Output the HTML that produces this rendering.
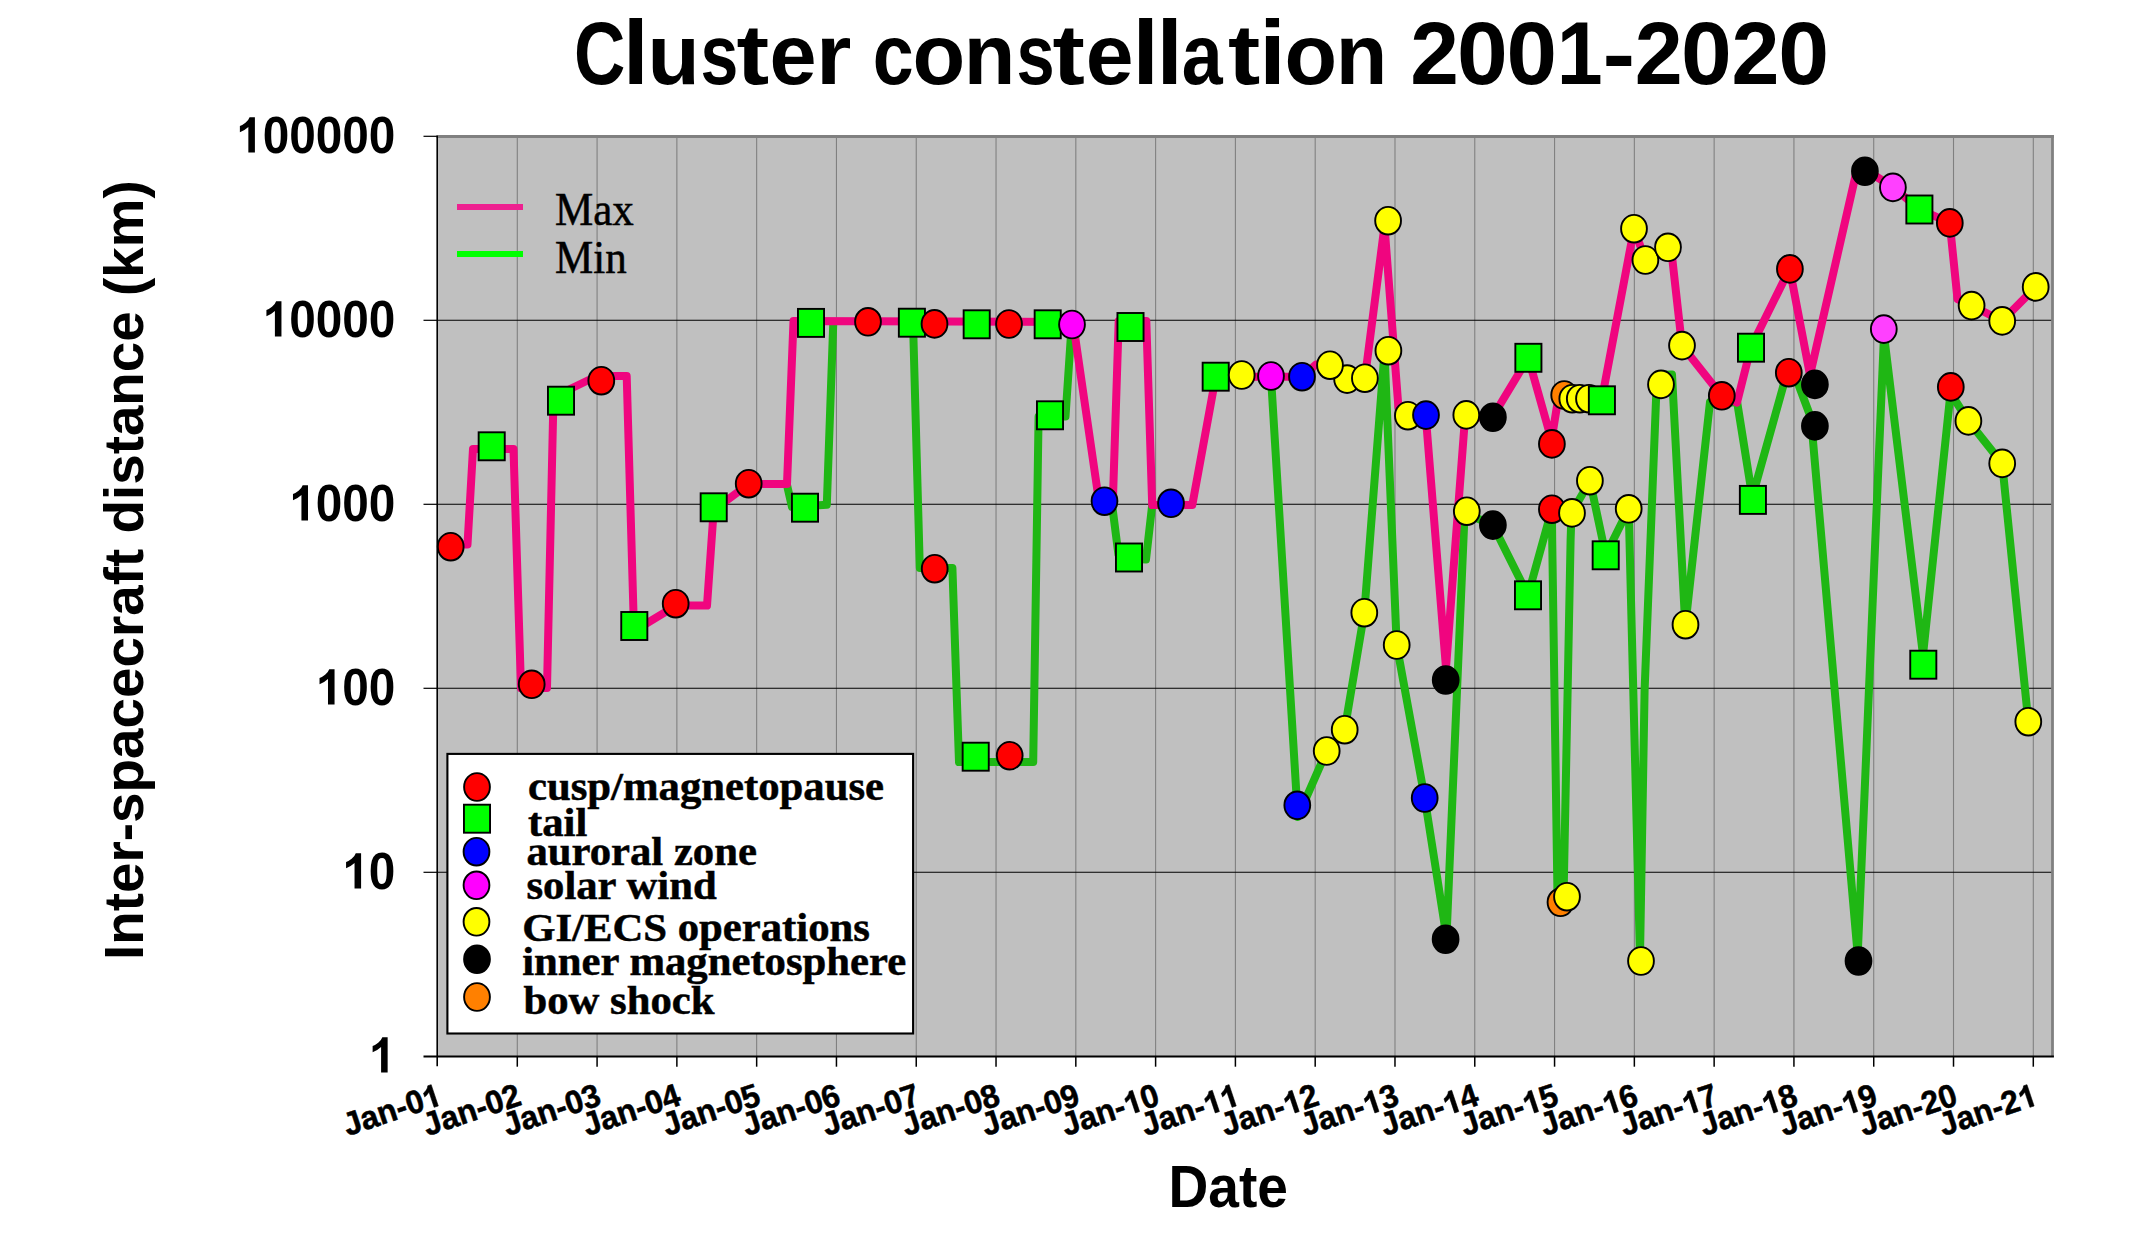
<!DOCTYPE html>
<html><head><meta charset="utf-8"><title>Cluster constellation 2001-2020</title>
<style>html,body{margin:0;padding:0;background:#fff}body{width:2153px;height:1254px;overflow:hidden}svg{display:block}text{font-family:"Liberation Sans",sans-serif;fill:#000}.b{font-weight:bold}.se{font-family:"Liberation Serif",serif}</style></head><body>
<svg width="2153" height="1254" viewBox="0 0 2153 1254">
<rect width="2153" height="1254" fill="#fff"/>
<rect x="437.5" y="136.3" width="1615.0" height="920.0" fill="#c0c0c0"/>
<line x1="517.29" y1="136.3" x2="517.29" y2="1056.3" stroke="#808080" stroke-width="1.1"/>
<line x1="597.08" y1="136.3" x2="597.08" y2="1056.3" stroke="#808080" stroke-width="1.1"/>
<line x1="676.87" y1="136.3" x2="676.87" y2="1056.3" stroke="#808080" stroke-width="1.1"/>
<line x1="756.66" y1="136.3" x2="756.66" y2="1056.3" stroke="#808080" stroke-width="1.1"/>
<line x1="836.45" y1="136.3" x2="836.45" y2="1056.3" stroke="#808080" stroke-width="1.1"/>
<line x1="916.24" y1="136.3" x2="916.24" y2="1056.3" stroke="#808080" stroke-width="1.1"/>
<line x1="996.03" y1="136.3" x2="996.03" y2="1056.3" stroke="#808080" stroke-width="1.1"/>
<line x1="1075.82" y1="136.3" x2="1075.82" y2="1056.3" stroke="#808080" stroke-width="1.1"/>
<line x1="1155.61" y1="136.3" x2="1155.61" y2="1056.3" stroke="#808080" stroke-width="1.1"/>
<line x1="1235.40" y1="136.3" x2="1235.40" y2="1056.3" stroke="#808080" stroke-width="1.1"/>
<line x1="1315.19" y1="136.3" x2="1315.19" y2="1056.3" stroke="#808080" stroke-width="1.1"/>
<line x1="1394.98" y1="136.3" x2="1394.98" y2="1056.3" stroke="#808080" stroke-width="1.1"/>
<line x1="1474.77" y1="136.3" x2="1474.77" y2="1056.3" stroke="#808080" stroke-width="1.1"/>
<line x1="1554.56" y1="136.3" x2="1554.56" y2="1056.3" stroke="#808080" stroke-width="1.1"/>
<line x1="1634.35" y1="136.3" x2="1634.35" y2="1056.3" stroke="#808080" stroke-width="1.1"/>
<line x1="1714.14" y1="136.3" x2="1714.14" y2="1056.3" stroke="#808080" stroke-width="1.1"/>
<line x1="1793.93" y1="136.3" x2="1793.93" y2="1056.3" stroke="#808080" stroke-width="1.1"/>
<line x1="1873.72" y1="136.3" x2="1873.72" y2="1056.3" stroke="#808080" stroke-width="1.1"/>
<line x1="1953.51" y1="136.3" x2="1953.51" y2="1056.3" stroke="#808080" stroke-width="1.1"/>
<line x1="2033.30" y1="136.3" x2="2033.30" y2="1056.3" stroke="#808080" stroke-width="1.1"/>
<line x1="437.5" y1="320.30" x2="2052.5" y2="320.30" stroke="#000" stroke-width="1.1"/>
<line x1="437.5" y1="504.30" x2="2052.5" y2="504.30" stroke="#000" stroke-width="1.1"/>
<line x1="437.5" y1="688.30" x2="2052.5" y2="688.30" stroke="#000" stroke-width="1.1"/>
<line x1="437.5" y1="872.30" x2="2052.5" y2="872.30" stroke="#000" stroke-width="1.1"/>
<line x1="436.5" y1="136.5" x2="2053.9" y2="136.5" stroke="#808080" stroke-width="2.8"/>
<line x1="2052.5" y1="135.10000000000002" x2="2052.5" y2="1057.1" stroke="#808080" stroke-width="2.8"/>
<line x1="437.2" y1="135.8" x2="437.2" y2="1066.3" stroke="#000" stroke-width="1.6"/>
<line x1="423.5" y1="1056.6" x2="2053.9" y2="1056.6" stroke="#000" stroke-width="2"/>
<line x1="423.5" y1="136.30" x2="437.5" y2="136.30" stroke="#000" stroke-width="1.2"/>
<line x1="423.5" y1="320.30" x2="437.5" y2="320.30" stroke="#000" stroke-width="1.2"/>
<line x1="423.5" y1="504.30" x2="437.5" y2="504.30" stroke="#000" stroke-width="1.2"/>
<line x1="423.5" y1="688.30" x2="437.5" y2="688.30" stroke="#000" stroke-width="1.2"/>
<line x1="423.5" y1="872.30" x2="437.5" y2="872.30" stroke="#000" stroke-width="1.2"/>
<line x1="517.29" y1="1056.3" x2="517.29" y2="1066.7" stroke="#000" stroke-width="1.5"/>
<line x1="597.08" y1="1056.3" x2="597.08" y2="1066.7" stroke="#000" stroke-width="1.5"/>
<line x1="676.87" y1="1056.3" x2="676.87" y2="1066.7" stroke="#000" stroke-width="1.5"/>
<line x1="756.66" y1="1056.3" x2="756.66" y2="1066.7" stroke="#000" stroke-width="1.5"/>
<line x1="836.45" y1="1056.3" x2="836.45" y2="1066.7" stroke="#000" stroke-width="1.5"/>
<line x1="916.24" y1="1056.3" x2="916.24" y2="1066.7" stroke="#000" stroke-width="1.5"/>
<line x1="996.03" y1="1056.3" x2="996.03" y2="1066.7" stroke="#000" stroke-width="1.5"/>
<line x1="1075.82" y1="1056.3" x2="1075.82" y2="1066.7" stroke="#000" stroke-width="1.5"/>
<line x1="1155.61" y1="1056.3" x2="1155.61" y2="1066.7" stroke="#000" stroke-width="1.5"/>
<line x1="1235.40" y1="1056.3" x2="1235.40" y2="1066.7" stroke="#000" stroke-width="1.5"/>
<line x1="1315.19" y1="1056.3" x2="1315.19" y2="1066.7" stroke="#000" stroke-width="1.5"/>
<line x1="1394.98" y1="1056.3" x2="1394.98" y2="1066.7" stroke="#000" stroke-width="1.5"/>
<line x1="1474.77" y1="1056.3" x2="1474.77" y2="1066.7" stroke="#000" stroke-width="1.5"/>
<line x1="1554.56" y1="1056.3" x2="1554.56" y2="1066.7" stroke="#000" stroke-width="1.5"/>
<line x1="1634.35" y1="1056.3" x2="1634.35" y2="1066.7" stroke="#000" stroke-width="1.5"/>
<line x1="1714.14" y1="1056.3" x2="1714.14" y2="1066.7" stroke="#000" stroke-width="1.5"/>
<line x1="1793.93" y1="1056.3" x2="1793.93" y2="1066.7" stroke="#000" stroke-width="1.5"/>
<line x1="1873.72" y1="1056.3" x2="1873.72" y2="1066.7" stroke="#000" stroke-width="1.5"/>
<line x1="1953.51" y1="1056.3" x2="1953.51" y2="1066.7" stroke="#000" stroke-width="1.5"/>
<line x1="2033.30" y1="1056.3" x2="2033.30" y2="1066.7" stroke="#000" stroke-width="1.5"/>
<path d="M787,485 L792,507 L826.8,504.8 L833.3,322 M913,322 L919.8,568 L952.4,568 L959,762 L1033.2,762 L1038.6,416.5 L1065.5,416.5 L1071.5,327 M1112,504 L1118.5,555 L1129,558.5 L1146,559.5 L1152.2,505 M1271,377 L1297.8,817 L1326.7,751 L1344.7,729.7 L1364.3,612.7 L1384.5,352 L1396.7,645 L1424.7,798 L1446.5,937 L1464.6,513 L1492.9,525 L1528,595.3 L1551.9,509 L1552.2,540 L1557.6,903 L1563.5,900 L1570.6,540 L1571.5,513 L1590,481 L1605.7,555 L1628.7,508.8 L1640,957 L1644.6,690 L1657,375 L1672,374.5 L1685.3,626 L1710,402 L1737.2,402.5 L1752.3,497 L1790,362 L1811,418 L1857.7,955 L1884,335 L1923,655 L1950.5,393 L1968.4,421 L2002.2,463.6 L2028.3,721.7" fill="none" stroke="#1fb714" stroke-width="8" stroke-linejoin="round" stroke-linecap="round"/>
<path d="M450.6,544.5 L467.5,544.5 L473,449 L513.5,449 L521,688 L547,688 L553.5,397 L597,376 L626.7,376 L634,631 L676,605.6 L707,605.6 L713.7,510 L749,483.9 L787,484 L793.5,321 L1073,322 L1099.3,503.5 L1112.8,503.5 L1118.7,321 L1146.3,321 L1152.2,505 L1192.3,505 L1215.7,377 L1302,376.7 L1316,364.5 L1330,365.2 L1347.1,379.1 L1364.9,378.2 L1384.5,226 L1398.5,408 L1425.7,415 L1446,668 L1465,418 L1492.7,416.7 L1528.3,357.7 L1551.5,440 L1558,400 L1601.7,400 L1634,228.7 L1645.4,260 L1671,247.3 L1682,345.7 L1721.7,395.7 L1737,402.5 L1751,347 L1789.7,268.7 L1810,375 L1858,165 L1892.7,187 L1919.3,209.3 L1949.7,222.7 L1957.5,299 L1971.7,305.5 L2002,321 L2035.7,287" fill="none" stroke="#f0057f" stroke-width="8" stroke-linejoin="round" stroke-linecap="round"/>
<line x1="457" y1="207" x2="523" y2="207" stroke="#ee2090" stroke-width="5.8"/>
<line x1="457" y1="254" x2="523" y2="254" stroke="#00ff00" stroke-width="5.8"/>
<text class="se" font-size="43" stroke="#000" stroke-width="0.5" transform="translate(555,224.7) scale(1,1.065)">Max</text>
<text class="se" font-size="43" stroke="#000" stroke-width="0.5" transform="translate(555,272.6) scale(1,1.065)">Min</text>
<ellipse cx="450.7" cy="546.7" rx="12.9" ry="13.85" fill="#ff0000" stroke="#000" stroke-width="1.9"/>
<rect x="478.65" y="432.30" width="26.1" height="28.0" fill="#00ff00" stroke="#000" stroke-width="1.9"/>
<ellipse cx="531.7" cy="684.3" rx="12.9" ry="13.85" fill="#ff0000" stroke="#000" stroke-width="1.9"/>
<rect x="547.95" y="386.70" width="26.1" height="28.0" fill="#00ff00" stroke="#000" stroke-width="1.9"/>
<ellipse cx="601.3" cy="380.7" rx="12.9" ry="13.85" fill="#ff0000" stroke="#000" stroke-width="1.9"/>
<rect x="621.25" y="612.00" width="26.1" height="28.0" fill="#00ff00" stroke="#000" stroke-width="1.9"/>
<ellipse cx="675.7" cy="603.7" rx="12.9" ry="13.85" fill="#ff0000" stroke="#000" stroke-width="1.9"/>
<rect x="700.65" y="493.30" width="26.1" height="28.0" fill="#00ff00" stroke="#000" stroke-width="1.9"/>
<ellipse cx="748.7" cy="483.7" rx="12.9" ry="13.85" fill="#ff0000" stroke="#000" stroke-width="1.9"/>
<rect x="791.95" y="493.70" width="26.1" height="28.0" fill="#00ff00" stroke="#000" stroke-width="1.9"/>
<rect x="797.95" y="308.90" width="26.1" height="28.0" fill="#00ff00" stroke="#000" stroke-width="1.9"/>
<ellipse cx="868" cy="321.8" rx="12.9" ry="13.85" fill="#ff0000" stroke="#000" stroke-width="1.9"/>
<rect x="898.85" y="308.70" width="26.1" height="28.0" fill="#00ff00" stroke="#000" stroke-width="1.9"/>
<ellipse cx="934.5" cy="323.9" rx="12.9" ry="13.85" fill="#ff0000" stroke="#000" stroke-width="1.9"/>
<rect x="963.65" y="310.30" width="26.1" height="28.0" fill="#00ff00" stroke="#000" stroke-width="1.9"/>
<ellipse cx="1009" cy="324" rx="12.9" ry="13.85" fill="#ff0000" stroke="#000" stroke-width="1.9"/>
<rect x="1034.65" y="310.30" width="26.1" height="28.0" fill="#00ff00" stroke="#000" stroke-width="1.9"/>
<ellipse cx="934.7" cy="568.7" rx="12.9" ry="13.85" fill="#ff0000" stroke="#000" stroke-width="1.9"/>
<rect x="962.65" y="742.70" width="26.1" height="28.0" fill="#00ff00" stroke="#000" stroke-width="1.9"/>
<ellipse cx="1009.7" cy="755.7" rx="12.9" ry="13.85" fill="#ff0000" stroke="#000" stroke-width="1.9"/>
<rect x="1036.95" y="401.30" width="26.1" height="28.0" fill="#00ff00" stroke="#000" stroke-width="1.9"/>
<ellipse cx="1072" cy="324.5" rx="12.9" ry="13.85" fill="#ff00ff" stroke="#000" stroke-width="1.9"/>
<ellipse cx="1104.5" cy="501.2" rx="12.9" ry="13.85" fill="#0000ff" stroke="#000" stroke-width="1.9"/>
<rect x="1117.45" y="313.00" width="26.1" height="28.0" fill="#00ff00" stroke="#000" stroke-width="1.9"/>
<rect x="1115.95" y="543.50" width="26.1" height="28.0" fill="#00ff00" stroke="#000" stroke-width="1.9"/>
<ellipse cx="1171" cy="503.3" rx="12.9" ry="13.85" fill="#0000ff" stroke="#000" stroke-width="1.9"/>
<rect x="1202.65" y="362.70" width="26.1" height="28.0" fill="#00ff00" stroke="#000" stroke-width="1.9"/>
<ellipse cx="1241.7" cy="375" rx="12.9" ry="13.85" fill="#ffff00" stroke="#000" stroke-width="1.9"/>
<ellipse cx="1271" cy="376" rx="12.9" ry="13.85" fill="#ff00ff" stroke="#000" stroke-width="1.9"/>
<ellipse cx="1302" cy="376.7" rx="12.9" ry="13.85" fill="#0000ff" stroke="#000" stroke-width="1.9"/>
<ellipse cx="1347.1" cy="379.1" rx="12.9" ry="13.85" fill="#ffff00" stroke="#000" stroke-width="1.9"/>
<ellipse cx="1330" cy="365.2" rx="12.9" ry="13.85" fill="#ffff00" stroke="#000" stroke-width="1.9"/>
<ellipse cx="1364.9" cy="378.2" rx="12.9" ry="13.85" fill="#ffff00" stroke="#000" stroke-width="1.9"/>
<ellipse cx="1388.1" cy="220.7" rx="12.9" ry="13.85" fill="#ffff00" stroke="#000" stroke-width="1.9"/>
<ellipse cx="1388.4" cy="350.7" rx="12.9" ry="13.85" fill="#ffff00" stroke="#000" stroke-width="1.9"/>
<ellipse cx="1407.9" cy="415.7" rx="12.9" ry="13.85" fill="#ffff00" stroke="#000" stroke-width="1.9"/>
<ellipse cx="1426" cy="415.1" rx="12.9" ry="13.85" fill="#0000ff" stroke="#000" stroke-width="1.9"/>
<ellipse cx="1466.3" cy="414.9" rx="12.9" ry="13.85" fill="#ffff00" stroke="#000" stroke-width="1.9"/>
<ellipse cx="1492.9" cy="417.3" rx="12.9" ry="13.85" fill="#000000" stroke="#000" stroke-width="1.9"/>
<rect x="1515.35" y="343.80" width="26.1" height="28.0" fill="#00ff00" stroke="#000" stroke-width="1.9"/>
<ellipse cx="1551.9" cy="443.9" rx="12.9" ry="13.85" fill="#ff0000" stroke="#000" stroke-width="1.9"/>
<ellipse cx="1564.2" cy="395" rx="12.9" ry="13.85" fill="#ff8000" stroke="#000" stroke-width="1.9"/>
<ellipse cx="1572.3" cy="398.7" rx="12.9" ry="13.85" fill="#ffff00" stroke="#000" stroke-width="1.9"/>
<ellipse cx="1579.8" cy="398.7" rx="12.9" ry="13.85" fill="#ffff00" stroke="#000" stroke-width="1.9"/>
<ellipse cx="1589" cy="398.7" rx="12.9" ry="13.85" fill="#ffff00" stroke="#000" stroke-width="1.9"/>
<rect x="1588.85" y="386.30" width="26.1" height="28.0" fill="#00ff00" stroke="#000" stroke-width="1.9"/>
<ellipse cx="1634" cy="228.7" rx="12.9" ry="13.85" fill="#ffff00" stroke="#000" stroke-width="1.9"/>
<ellipse cx="1645.4" cy="260" rx="12.9" ry="13.85" fill="#ffff00" stroke="#000" stroke-width="1.9"/>
<ellipse cx="1668" cy="247.3" rx="12.9" ry="13.85" fill="#ffff00" stroke="#000" stroke-width="1.9"/>
<ellipse cx="1682" cy="345.6" rx="12.9" ry="13.85" fill="#ffff00" stroke="#000" stroke-width="1.9"/>
<ellipse cx="1721.8" cy="395.8" rx="12.9" ry="13.85" fill="#ff0000" stroke="#000" stroke-width="1.9"/>
<rect x="1737.95" y="333.70" width="26.1" height="28.0" fill="#00ff00" stroke="#000" stroke-width="1.9"/>
<ellipse cx="1661" cy="384.4" rx="12.9" ry="13.85" fill="#ffff00" stroke="#000" stroke-width="1.9"/>
<ellipse cx="1364.3" cy="612.7" rx="12.9" ry="13.85" fill="#ffff00" stroke="#000" stroke-width="1.9"/>
<ellipse cx="1396.7" cy="645" rx="12.9" ry="13.85" fill="#ffff00" stroke="#000" stroke-width="1.9"/>
<ellipse cx="1445.7" cy="680" rx="12.9" ry="13.85" fill="#000000" stroke="#000" stroke-width="1.9"/>
<ellipse cx="1326.7" cy="751" rx="12.9" ry="13.85" fill="#ffff00" stroke="#000" stroke-width="1.9"/>
<ellipse cx="1344.7" cy="729.7" rx="12.9" ry="13.85" fill="#ffff00" stroke="#000" stroke-width="1.9"/>
<ellipse cx="1297.3" cy="805.3" rx="12.9" ry="13.85" fill="#0000ff" stroke="#000" stroke-width="1.9"/>
<ellipse cx="1424.7" cy="798" rx="12.9" ry="13.85" fill="#0000ff" stroke="#000" stroke-width="1.9"/>
<ellipse cx="1445.6" cy="939.3" rx="12.9" ry="13.85" fill="#000000" stroke="#000" stroke-width="1.9"/>
<ellipse cx="1466.8" cy="511.2" rx="12.9" ry="13.85" fill="#ffff00" stroke="#000" stroke-width="1.9"/>
<ellipse cx="1492.9" cy="525.1" rx="12.9" ry="13.85" fill="#000000" stroke="#000" stroke-width="1.9"/>
<rect x="1514.95" y="581.30" width="26.1" height="28.0" fill="#00ff00" stroke="#000" stroke-width="1.9"/>
<ellipse cx="1551.9" cy="509.2" rx="12.9" ry="13.85" fill="#ff0000" stroke="#000" stroke-width="1.9"/>
<ellipse cx="1572" cy="512.9" rx="12.9" ry="13.85" fill="#ffff00" stroke="#000" stroke-width="1.9"/>
<ellipse cx="1589.9" cy="480.7" rx="12.9" ry="13.85" fill="#ffff00" stroke="#000" stroke-width="1.9"/>
<rect x="1592.65" y="541.30" width="26.1" height="28.0" fill="#00ff00" stroke="#000" stroke-width="1.9"/>
<ellipse cx="1628.7" cy="508.8" rx="12.9" ry="13.85" fill="#ffff00" stroke="#000" stroke-width="1.9"/>
<ellipse cx="1560.5" cy="902.3" rx="12.9" ry="13.85" fill="#ff8000" stroke="#000" stroke-width="1.9"/>
<ellipse cx="1567" cy="896.7" rx="12.9" ry="13.85" fill="#ffff00" stroke="#000" stroke-width="1.9"/>
<ellipse cx="1641" cy="961" rx="12.9" ry="13.85" fill="#ffff00" stroke="#000" stroke-width="1.9"/>
<ellipse cx="1685.5" cy="624.7" rx="12.9" ry="13.85" fill="#ffff00" stroke="#000" stroke-width="1.9"/>
<rect x="1739.85" y="485.90" width="26.1" height="28.0" fill="#00ff00" stroke="#000" stroke-width="1.9"/>
<ellipse cx="1789.9" cy="268.9" rx="12.9" ry="13.85" fill="#ff0000" stroke="#000" stroke-width="1.9"/>
<ellipse cx="1788.8" cy="372.7" rx="12.9" ry="13.85" fill="#ff0000" stroke="#000" stroke-width="1.9"/>
<ellipse cx="1814.9" cy="384.4" rx="12.9" ry="13.85" fill="#000000" stroke="#000" stroke-width="1.9"/>
<ellipse cx="1814.9" cy="425.9" rx="12.9" ry="13.85" fill="#000000" stroke="#000" stroke-width="1.9"/>
<ellipse cx="1864.9" cy="171.3" rx="12.9" ry="13.85" fill="#000000" stroke="#000" stroke-width="1.9"/>
<ellipse cx="1892.9" cy="187.4" rx="12.9" ry="13.85" fill="#ff40ff" stroke="#000" stroke-width="1.9"/>
<rect x="1906.35" y="195.50" width="26.1" height="28.0" fill="#00ff00" stroke="#000" stroke-width="1.9"/>
<ellipse cx="1949.8" cy="222.9" rx="12.9" ry="13.85" fill="#ff0000" stroke="#000" stroke-width="1.9"/>
<ellipse cx="1971.6" cy="305.6" rx="12.9" ry="13.85" fill="#ffff00" stroke="#000" stroke-width="1.9"/>
<ellipse cx="2002.2" cy="320.9" rx="12.9" ry="13.85" fill="#ffff00" stroke="#000" stroke-width="1.9"/>
<ellipse cx="2035.7" cy="286.9" rx="12.9" ry="13.85" fill="#ffff00" stroke="#000" stroke-width="1.9"/>
<ellipse cx="1883.8" cy="329.1" rx="12.9" ry="13.85" fill="#ff40ff" stroke="#000" stroke-width="1.9"/>
<ellipse cx="1950.8" cy="386.9" rx="12.9" ry="13.85" fill="#ff0000" stroke="#000" stroke-width="1.9"/>
<ellipse cx="1968.4" cy="420.9" rx="12.9" ry="13.85" fill="#ffff00" stroke="#000" stroke-width="1.9"/>
<ellipse cx="2002.2" cy="463.4" rx="12.9" ry="13.85" fill="#ffff00" stroke="#000" stroke-width="1.9"/>
<rect x="1910.25" y="650.70" width="26.1" height="28.0" fill="#00ff00" stroke="#000" stroke-width="1.9"/>
<ellipse cx="2028.3" cy="721.7" rx="12.9" ry="13.85" fill="#ffff00" stroke="#000" stroke-width="1.9"/>
<ellipse cx="1858.5" cy="961" rx="12.9" ry="13.85" fill="#000000" stroke="#000" stroke-width="1.9"/>
<rect x="447.4" y="753.9" width="465.7" height="279.6" fill="#fff" stroke="#000" stroke-width="2.1"/>
<ellipse cx="477" cy="787" rx="12.9" ry="13.85" fill="#ff0000" stroke="#000" stroke-width="1.9"/>
<text class="se b" font-size="41" stroke="#000" stroke-width="0.5" transform="translate(528,799.7) scale(1.042,1)">cusp/magnetopause</text>
<rect x="463.95" y="804.70" width="26.1" height="28.0" fill="#00ff00" stroke="#000" stroke-width="1.9"/>
<text class="se b" font-size="41" stroke="#000" stroke-width="0.5" transform="translate(528,835.5) scale(1.042,1)">tail</text>
<ellipse cx="476.5" cy="851.7" rx="12.9" ry="13.85" fill="#0000ff" stroke="#000" stroke-width="1.9"/>
<text class="se b" font-size="41" stroke="#000" stroke-width="0.5" transform="translate(526.4,864.9) scale(1.042,1)">auroral zone</text>
<ellipse cx="476.5" cy="885.3" rx="12.9" ry="13.85" fill="#ff00ff" stroke="#000" stroke-width="1.9"/>
<text class="se b" font-size="41" stroke="#000" stroke-width="0.5" transform="translate(526.4,899.1) scale(1.042,1)">solar wind</text>
<ellipse cx="476.5" cy="921.8" rx="12.9" ry="13.85" fill="#ffff00" stroke="#000" stroke-width="1.9"/>
<text class="se b" font-size="41" stroke="#000" stroke-width="0.5" transform="translate(522.2,940.8) scale(1.042,1)">GI/ECS operations</text>
<ellipse cx="477" cy="959.2" rx="12.9" ry="13.85" fill="#000000" stroke="#000" stroke-width="1.9"/>
<text class="se b" font-size="41" stroke="#000" stroke-width="0.5" transform="translate(522.2,974.7) scale(1.042,1)">inner magnetosphere</text>
<ellipse cx="477" cy="997" rx="12.9" ry="13.85" fill="#ff8000" stroke="#000" stroke-width="1.9"/>
<text class="se b" font-size="41" stroke="#000" stroke-width="0.5" transform="translate(523.4,1013.6) scale(1.042,1)">bow shock</text>
<text class="b" font-size="86.0" transform="translate(574.08,84.2) scale(0.8270,1.03)">C</text>
<text class="b" font-size="86.0" transform="translate(622.89,84.2) scale(1.0678,1.048)">l</text>
<text class="b" font-size="86.0" transform="translate(647.60,84.2) scale(0.9945,1.0)">u</text>
<text class="b" font-size="86.0" transform="translate(700.41,84.2) scale(0.7898,1.0)">s</text>
<text class="b" font-size="86.0" transform="translate(736.60,84.2) scale(1.1417,1.0)">t</text>
<text class="b" font-size="86.0" transform="translate(769.39,84.2) scale(0.9848,1.0)">e</text>
<text class="b" font-size="86.0" transform="translate(816.01,84.2) scale(1.0567,1.0)">r</text>
<text class="b" font-size="86.0" transform="translate(872.73,84.2) scale(0.8558,1.0)">c</text>
<text class="b" font-size="86.0" transform="translate(912.53,84.2) scale(1.0041,1.0)">o</text>
<text class="b" font-size="86.0" transform="translate(963.83,84.2) scale(0.9824,1.0)">n</text>
<text class="b" font-size="86.0" transform="translate(1016.39,84.2) scale(0.7970,1.0)">s</text>
<text class="b" font-size="86.0" transform="translate(1052.51,84.2) scale(1.1304,1.0)">t</text>
<text class="b" font-size="86.0" transform="translate(1085.74,84.2) scale(0.9993,1.0)">e</text>
<text class="b" font-size="86.0" transform="translate(1132.58,84.2) scale(1.1017,1.048)">l</text>
<text class="b" font-size="86.0" transform="translate(1156.58,84.2) scale(1.1017,1.048)">l</text>
<text class="b" font-size="86.0" transform="translate(1181.75,84.2) scale(0.8549,1.0)">a</text>
<text class="b" font-size="86.0" transform="translate(1227.92,84.2) scale(1.1266,1.0)">t</text>
<text class="b" font-size="86.0" transform="translate(1259.23,84.2) scale(1.1102,1.048)">i</text>
<text class="b" font-size="86.0" transform="translate(1284.53,84.2) scale(1.0019,1.0)">o</text>
<text class="b" font-size="86.0" transform="translate(1335.83,84.2) scale(0.9824,1.0)">n</text>
<text class="b" font-size="86.0" transform="translate(1410.27,84.2) scale(1.0168,1.035)">2</text>
<text class="b" font-size="86.0" transform="translate(1456.99,84.2) scale(1.0611,1.035)">0</text>
<text class="b" font-size="86.0" transform="translate(1506.41,84.2) scale(1.0562,1.035)">0</text>
<text class="b" font-size="86.0" transform="translate(1556.80,84.2) scale(0.9596,1.035)">1</text>
<text class="b" font-size="86.0" transform="translate(1602.47,83.3) scale(1.1403,1.0)">-</text>
<text class="b" font-size="86.0" transform="translate(1634.71,84.2) scale(1.0023,1.035)">2</text>
<text class="b" font-size="86.0" transform="translate(1680.99,84.2) scale(1.0611,1.035)">0</text>
<text class="b" font-size="86.0" transform="translate(1731.61,84.2) scale(1.0023,1.035)">2</text>
<text class="b" font-size="86.0" transform="translate(1778.28,84.2) scale(1.0636,1.035)">0</text>
<g transform="translate(395.4,152.6) scale(1,1.08)">
<text class="b" font-size="47.75" text-anchor="end">00000</text>
<path d="M-140.50,-0.00 L-147.05,-0.00 L-147.05,-23.63 Q-150.64,-20.42 -155.52,-18.88 L-155.52,-24.57 Q-152.95,-25.37 -149.94,-27.61 Q-146.94,-29.85 -145.82,-32.84 L-140.50,-32.84 Z" fill="#000"/></g>
<g transform="translate(395.4,336.6) scale(1,1.08)">
<text class="b" font-size="47.75" text-anchor="end">0000</text>
<path d="M-113.95,-0.00 L-120.50,-0.00 L-120.50,-23.63 Q-124.09,-20.42 -128.97,-18.88 L-128.97,-24.57 Q-126.40,-25.37 -123.40,-27.61 Q-120.39,-29.85 -119.27,-32.84 L-113.95,-32.84 Z" fill="#000"/></g>
<g transform="translate(395.4,520.6) scale(1,1.08)">
<text class="b" font-size="47.75" text-anchor="end">000</text>
<path d="M-87.40,-0.00 L-93.96,-0.00 L-93.96,-23.63 Q-97.55,-20.42 -102.42,-18.88 L-102.42,-24.57 Q-99.85,-25.37 -96.85,-27.61 Q-93.84,-29.85 -92.72,-32.84 L-87.40,-32.84 Z" fill="#000"/></g>
<g transform="translate(395.4,704.6) scale(1,1.08)">
<text class="b" font-size="47.75" text-anchor="end">00</text>
<path d="M-60.85,-0.00 L-67.41,-0.00 L-67.41,-23.63 Q-71.00,-20.42 -75.87,-18.88 L-75.87,-24.57 Q-73.31,-25.37 -70.30,-27.61 Q-67.29,-29.85 -66.17,-32.84 L-60.85,-32.84 Z" fill="#000"/></g>
<g transform="translate(395.4,888.6) scale(1,1.08)">
<text class="b" font-size="47.75" text-anchor="end">0</text>
<path d="M-34.31,-0.00 L-40.86,-0.00 L-40.86,-23.63 Q-44.45,-20.42 -49.32,-18.88 L-49.32,-24.57 Q-46.76,-25.37 -43.75,-27.61 Q-40.74,-29.85 -39.62,-32.84 L-34.31,-32.84 Z" fill="#000"/></g>
<g transform="translate(395.4,1072.6) scale(1,1.08)">
<path d="M-7.76,-0.00 L-14.31,-0.00 L-14.31,-23.63 Q-17.90,-20.42 -22.77,-18.88 L-22.77,-24.57 Q-20.21,-25.37 -17.20,-27.61 Q-14.19,-29.85 -13.07,-32.84 L-7.76,-32.84 Z" fill="#000"/></g>
<g transform="translate(443.2,1104.3) rotate(-18.5) scale(1.044,1.07)" stroke="#000" stroke-width="0.5">
<text class="b" font-size="30.5" x="-96.62" y="0">J</text>
<text class="b" font-size="30.5" x="-79.67" y="0">a</text>
<text class="b" font-size="30.5" x="-62.71" y="0">n</text>
<text class="b" font-size="30.5" x="-44.07" y="0">-</text>
<text class="b" font-size="30.5" x="-33.92" y="0">0</text>
<path d="M-4.95,-0.00 L-9.14,-0.00 L-9.14,-15.09 Q-11.43,-13.04 -14.55,-12.06 L-14.55,-15.69 Q-12.91,-16.20 -10.99,-17.64 Q-9.06,-19.07 -8.35,-20.98 L-4.95,-20.98 Z" fill="#000"/>
</g>
<g transform="translate(523.0,1104.3) rotate(-18.5) scale(1.044,1.07)" stroke="#000" stroke-width="0.5">
<text class="b" font-size="30.5" x="-96.62" y="0">J</text>
<text class="b" font-size="30.5" x="-79.67" y="0">a</text>
<text class="b" font-size="30.5" x="-62.71" y="0">n</text>
<text class="b" font-size="30.5" x="-44.07" y="0">-</text>
<text class="b" font-size="30.5" x="-33.92" y="0">0</text>
<text class="b" font-size="30.5" x="-16.96" y="0">2</text>
</g>
<g transform="translate(602.8,1104.3) rotate(-18.5) scale(1.044,1.07)" stroke="#000" stroke-width="0.5">
<text class="b" font-size="30.5" x="-96.62" y="0">J</text>
<text class="b" font-size="30.5" x="-79.67" y="0">a</text>
<text class="b" font-size="30.5" x="-62.71" y="0">n</text>
<text class="b" font-size="30.5" x="-44.07" y="0">-</text>
<text class="b" font-size="30.5" x="-33.92" y="0">0</text>
<text class="b" font-size="30.5" x="-16.96" y="0">3</text>
</g>
<g transform="translate(682.6,1104.3) rotate(-18.5) scale(1.044,1.07)" stroke="#000" stroke-width="0.5">
<text class="b" font-size="30.5" x="-96.62" y="0">J</text>
<text class="b" font-size="30.5" x="-79.67" y="0">a</text>
<text class="b" font-size="30.5" x="-62.71" y="0">n</text>
<text class="b" font-size="30.5" x="-44.07" y="0">-</text>
<text class="b" font-size="30.5" x="-33.92" y="0">0</text>
<text class="b" font-size="30.5" x="-16.96" y="0">4</text>
</g>
<g transform="translate(762.4,1104.3) rotate(-18.5) scale(1.044,1.07)" stroke="#000" stroke-width="0.5">
<text class="b" font-size="30.5" x="-96.62" y="0">J</text>
<text class="b" font-size="30.5" x="-79.67" y="0">a</text>
<text class="b" font-size="30.5" x="-62.71" y="0">n</text>
<text class="b" font-size="30.5" x="-44.07" y="0">-</text>
<text class="b" font-size="30.5" x="-33.92" y="0">0</text>
<text class="b" font-size="30.5" x="-16.96" y="0">5</text>
</g>
<g transform="translate(842.2,1104.3) rotate(-18.5) scale(1.044,1.07)" stroke="#000" stroke-width="0.5">
<text class="b" font-size="30.5" x="-96.62" y="0">J</text>
<text class="b" font-size="30.5" x="-79.67" y="0">a</text>
<text class="b" font-size="30.5" x="-62.71" y="0">n</text>
<text class="b" font-size="30.5" x="-44.07" y="0">-</text>
<text class="b" font-size="30.5" x="-33.92" y="0">0</text>
<text class="b" font-size="30.5" x="-16.96" y="0">6</text>
</g>
<g transform="translate(921.9,1104.3) rotate(-18.5) scale(1.044,1.07)" stroke="#000" stroke-width="0.5">
<text class="b" font-size="30.5" x="-96.62" y="0">J</text>
<text class="b" font-size="30.5" x="-79.67" y="0">a</text>
<text class="b" font-size="30.5" x="-62.71" y="0">n</text>
<text class="b" font-size="30.5" x="-44.07" y="0">-</text>
<text class="b" font-size="30.5" x="-33.92" y="0">0</text>
<text class="b" font-size="30.5" x="-16.96" y="0">7</text>
</g>
<g transform="translate(1001.7,1104.3) rotate(-18.5) scale(1.044,1.07)" stroke="#000" stroke-width="0.5">
<text class="b" font-size="30.5" x="-96.62" y="0">J</text>
<text class="b" font-size="30.5" x="-79.67" y="0">a</text>
<text class="b" font-size="30.5" x="-62.71" y="0">n</text>
<text class="b" font-size="30.5" x="-44.07" y="0">-</text>
<text class="b" font-size="30.5" x="-33.92" y="0">0</text>
<text class="b" font-size="30.5" x="-16.96" y="0">8</text>
</g>
<g transform="translate(1081.5,1104.3) rotate(-18.5) scale(1.044,1.07)" stroke="#000" stroke-width="0.5">
<text class="b" font-size="30.5" x="-96.62" y="0">J</text>
<text class="b" font-size="30.5" x="-79.67" y="0">a</text>
<text class="b" font-size="30.5" x="-62.71" y="0">n</text>
<text class="b" font-size="30.5" x="-44.07" y="0">-</text>
<text class="b" font-size="30.5" x="-33.92" y="0">0</text>
<text class="b" font-size="30.5" x="-16.96" y="0">9</text>
</g>
<g transform="translate(1161.3,1104.3) rotate(-18.5) scale(1.044,1.07)" stroke="#000" stroke-width="0.5">
<text class="b" font-size="30.5" x="-96.62" y="0">J</text>
<text class="b" font-size="30.5" x="-79.67" y="0">a</text>
<text class="b" font-size="30.5" x="-62.71" y="0">n</text>
<text class="b" font-size="30.5" x="-44.07" y="0">-</text>
<path d="M-21.91,-0.00 L-26.10,-0.00 L-26.10,-15.09 Q-28.39,-13.04 -31.50,-12.06 L-31.50,-15.69 Q-29.87,-16.20 -27.94,-17.64 Q-26.02,-19.07 -25.31,-20.98 L-21.91,-20.98 Z" fill="#000"/>
<text class="b" font-size="30.5" x="-16.96" y="0">0</text>
</g>
<g transform="translate(1241.1,1104.3) rotate(-18.5) scale(1.044,1.07)" stroke="#000" stroke-width="0.5">
<text class="b" font-size="30.5" x="-96.62" y="0">J</text>
<text class="b" font-size="30.5" x="-79.67" y="0">a</text>
<text class="b" font-size="30.5" x="-62.71" y="0">n</text>
<text class="b" font-size="30.5" x="-44.07" y="0">-</text>
<path d="M-21.91,-0.00 L-26.10,-0.00 L-26.10,-15.09 Q-28.39,-13.04 -31.50,-12.06 L-31.50,-15.69 Q-29.87,-16.20 -27.94,-17.64 Q-26.02,-19.07 -25.31,-20.98 L-21.91,-20.98 Z" fill="#000"/>
<path d="M-4.95,-0.00 L-9.14,-0.00 L-9.14,-15.09 Q-11.43,-13.04 -14.55,-12.06 L-14.55,-15.69 Q-12.91,-16.20 -10.99,-17.64 Q-9.06,-19.07 -8.35,-20.98 L-4.95,-20.98 Z" fill="#000"/>
</g>
<g transform="translate(1320.9,1104.3) rotate(-18.5) scale(1.044,1.07)" stroke="#000" stroke-width="0.5">
<text class="b" font-size="30.5" x="-96.62" y="0">J</text>
<text class="b" font-size="30.5" x="-79.67" y="0">a</text>
<text class="b" font-size="30.5" x="-62.71" y="0">n</text>
<text class="b" font-size="30.5" x="-44.07" y="0">-</text>
<path d="M-21.91,-0.00 L-26.10,-0.00 L-26.10,-15.09 Q-28.39,-13.04 -31.50,-12.06 L-31.50,-15.69 Q-29.87,-16.20 -27.94,-17.64 Q-26.02,-19.07 -25.31,-20.98 L-21.91,-20.98 Z" fill="#000"/>
<text class="b" font-size="30.5" x="-16.96" y="0">2</text>
</g>
<g transform="translate(1400.7,1104.3) rotate(-18.5) scale(1.044,1.07)" stroke="#000" stroke-width="0.5">
<text class="b" font-size="30.5" x="-96.62" y="0">J</text>
<text class="b" font-size="30.5" x="-79.67" y="0">a</text>
<text class="b" font-size="30.5" x="-62.71" y="0">n</text>
<text class="b" font-size="30.5" x="-44.07" y="0">-</text>
<path d="M-21.91,-0.00 L-26.10,-0.00 L-26.10,-15.09 Q-28.39,-13.04 -31.50,-12.06 L-31.50,-15.69 Q-29.87,-16.20 -27.94,-17.64 Q-26.02,-19.07 -25.31,-20.98 L-21.91,-20.98 Z" fill="#000"/>
<text class="b" font-size="30.5" x="-16.96" y="0">3</text>
</g>
<g transform="translate(1480.5,1104.3) rotate(-18.5) scale(1.044,1.07)" stroke="#000" stroke-width="0.5">
<text class="b" font-size="30.5" x="-96.62" y="0">J</text>
<text class="b" font-size="30.5" x="-79.67" y="0">a</text>
<text class="b" font-size="30.5" x="-62.71" y="0">n</text>
<text class="b" font-size="30.5" x="-44.07" y="0">-</text>
<path d="M-21.91,-0.00 L-26.10,-0.00 L-26.10,-15.09 Q-28.39,-13.04 -31.50,-12.06 L-31.50,-15.69 Q-29.87,-16.20 -27.94,-17.64 Q-26.02,-19.07 -25.31,-20.98 L-21.91,-20.98 Z" fill="#000"/>
<text class="b" font-size="30.5" x="-16.96" y="0">4</text>
</g>
<g transform="translate(1560.3,1104.3) rotate(-18.5) scale(1.044,1.07)" stroke="#000" stroke-width="0.5">
<text class="b" font-size="30.5" x="-96.62" y="0">J</text>
<text class="b" font-size="30.5" x="-79.67" y="0">a</text>
<text class="b" font-size="30.5" x="-62.71" y="0">n</text>
<text class="b" font-size="30.5" x="-44.07" y="0">-</text>
<path d="M-21.91,-0.00 L-26.10,-0.00 L-26.10,-15.09 Q-28.39,-13.04 -31.50,-12.06 L-31.50,-15.69 Q-29.87,-16.20 -27.94,-17.64 Q-26.02,-19.07 -25.31,-20.98 L-21.91,-20.98 Z" fill="#000"/>
<text class="b" font-size="30.5" x="-16.96" y="0">5</text>
</g>
<g transform="translate(1640.1,1104.3) rotate(-18.5) scale(1.044,1.07)" stroke="#000" stroke-width="0.5">
<text class="b" font-size="30.5" x="-96.62" y="0">J</text>
<text class="b" font-size="30.5" x="-79.67" y="0">a</text>
<text class="b" font-size="30.5" x="-62.71" y="0">n</text>
<text class="b" font-size="30.5" x="-44.07" y="0">-</text>
<path d="M-21.91,-0.00 L-26.10,-0.00 L-26.10,-15.09 Q-28.39,-13.04 -31.50,-12.06 L-31.50,-15.69 Q-29.87,-16.20 -27.94,-17.64 Q-26.02,-19.07 -25.31,-20.98 L-21.91,-20.98 Z" fill="#000"/>
<text class="b" font-size="30.5" x="-16.96" y="0">6</text>
</g>
<g transform="translate(1719.8,1104.3) rotate(-18.5) scale(1.044,1.07)" stroke="#000" stroke-width="0.5">
<text class="b" font-size="30.5" x="-96.62" y="0">J</text>
<text class="b" font-size="30.5" x="-79.67" y="0">a</text>
<text class="b" font-size="30.5" x="-62.71" y="0">n</text>
<text class="b" font-size="30.5" x="-44.07" y="0">-</text>
<path d="M-21.91,-0.00 L-26.10,-0.00 L-26.10,-15.09 Q-28.39,-13.04 -31.50,-12.06 L-31.50,-15.69 Q-29.87,-16.20 -27.94,-17.64 Q-26.02,-19.07 -25.31,-20.98 L-21.91,-20.98 Z" fill="#000"/>
<text class="b" font-size="30.5" x="-16.96" y="0">7</text>
</g>
<g transform="translate(1799.6,1104.3) rotate(-18.5) scale(1.044,1.07)" stroke="#000" stroke-width="0.5">
<text class="b" font-size="30.5" x="-96.62" y="0">J</text>
<text class="b" font-size="30.5" x="-79.67" y="0">a</text>
<text class="b" font-size="30.5" x="-62.71" y="0">n</text>
<text class="b" font-size="30.5" x="-44.07" y="0">-</text>
<path d="M-21.91,-0.00 L-26.10,-0.00 L-26.10,-15.09 Q-28.39,-13.04 -31.50,-12.06 L-31.50,-15.69 Q-29.87,-16.20 -27.94,-17.64 Q-26.02,-19.07 -25.31,-20.98 L-21.91,-20.98 Z" fill="#000"/>
<text class="b" font-size="30.5" x="-16.96" y="0">8</text>
</g>
<g transform="translate(1879.4,1104.3) rotate(-18.5) scale(1.044,1.07)" stroke="#000" stroke-width="0.5">
<text class="b" font-size="30.5" x="-96.62" y="0">J</text>
<text class="b" font-size="30.5" x="-79.67" y="0">a</text>
<text class="b" font-size="30.5" x="-62.71" y="0">n</text>
<text class="b" font-size="30.5" x="-44.07" y="0">-</text>
<path d="M-21.91,-0.00 L-26.10,-0.00 L-26.10,-15.09 Q-28.39,-13.04 -31.50,-12.06 L-31.50,-15.69 Q-29.87,-16.20 -27.94,-17.64 Q-26.02,-19.07 -25.31,-20.98 L-21.91,-20.98 Z" fill="#000"/>
<text class="b" font-size="30.5" x="-16.96" y="0">9</text>
</g>
<g transform="translate(1959.2,1104.3) rotate(-18.5) scale(1.044,1.07)" stroke="#000" stroke-width="0.5">
<text class="b" font-size="30.5" x="-96.62" y="0">J</text>
<text class="b" font-size="30.5" x="-79.67" y="0">a</text>
<text class="b" font-size="30.5" x="-62.71" y="0">n</text>
<text class="b" font-size="30.5" x="-44.07" y="0">-</text>
<text class="b" font-size="30.5" x="-33.92" y="0">2</text>
<text class="b" font-size="30.5" x="-16.96" y="0">0</text>
</g>
<g transform="translate(2039.0,1104.3) rotate(-18.5) scale(1.044,1.07)" stroke="#000" stroke-width="0.5">
<text class="b" font-size="30.5" x="-96.62" y="0">J</text>
<text class="b" font-size="30.5" x="-79.67" y="0">a</text>
<text class="b" font-size="30.5" x="-62.71" y="0">n</text>
<text class="b" font-size="30.5" x="-44.07" y="0">-</text>
<text class="b" font-size="30.5" x="-33.92" y="0">2</text>
<path d="M-4.95,-0.00 L-9.14,-0.00 L-9.14,-15.09 Q-11.43,-13.04 -14.55,-12.06 L-14.55,-15.69 Q-12.91,-16.20 -10.99,-17.64 Q-9.06,-19.07 -8.35,-20.98 L-4.95,-20.98 Z" fill="#000"/>
</g>
<text class="b" font-size="55.1" text-anchor="middle" transform="translate(1228.2,1206.8) scale(1,1.06)">Date</text>
<text class="b" font-size="54.8" text-anchor="middle" transform="translate(143.3,570.1) rotate(-90) scale(1,1.0)">Inter-spacecraft distance (km)</text>
</svg></body></html>
